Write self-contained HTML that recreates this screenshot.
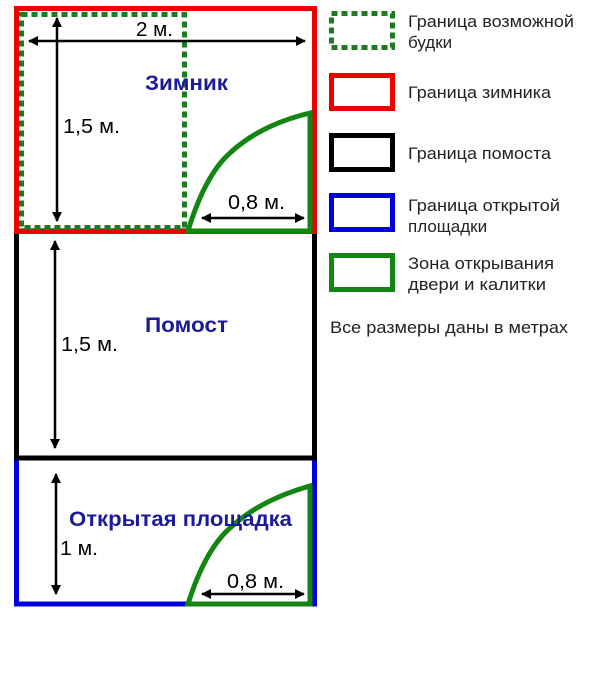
<!DOCTYPE html>
<html><head><meta charset="utf-8"><style>
body{margin:0;background:#fff;width:600px;height:675px;overflow:hidden}
svg text{font-family:"Liberation Sans",sans-serif}
</style></head><body>
<svg width="600" height="675" viewBox="0 0 600 675" xmlns="http://www.w3.org/2000/svg">
<defs>
<marker id="a" viewBox="0 0 10 10" refX="9" refY="5" markerWidth="4" markerHeight="4" orient="auto-start-reverse"><path d="M0,0 L10,5 L0,10 z" fill="#000"/></marker>
</defs>
<rect x="16.5" y="231" width="298" height="227" fill="none" stroke="#000" stroke-width="5"/>
<path d="M16.5,458 V604 H314.5 V458" fill="none" stroke="#0000e0" stroke-width="5"/>
<line x1="14" y1="458" x2="317" y2="458" stroke="#000" stroke-width="5"/>
<rect x="16.5" y="8.5" width="298" height="223" fill="none" stroke="#ee0000" stroke-width="5"/>
<rect x="21.5" y="14.5" width="163" height="213" fill="none" stroke="#1e7a1e" stroke-width="5" stroke-dasharray="6,4"/>
<path d="M188,231 Q205,175 230,153 Q260,125 310,113 V231 Z" fill="none" stroke="#138513" stroke-width="5"/>
<path d="M188,604 Q205,550 230,528 Q260,500 310,486 V604 Z" fill="none" stroke="#138513" stroke-width="5"/>
<line x1="190" y1="231" x2="312" y2="231" stroke="#138513" stroke-width="5"/>
<g stroke="#000" stroke-width="2.5" fill="none">
<line x1="29" y1="41" x2="305" y2="41" marker-start="url(#a)" marker-end="url(#a)"/>
<line x1="57" y1="18" x2="57" y2="221" marker-start="url(#a)" marker-end="url(#a)"/>
<line x1="55" y1="241" x2="55" y2="448" marker-start="url(#a)" marker-end="url(#a)"/>
<line x1="56" y1="474" x2="56" y2="594" marker-start="url(#a)" marker-end="url(#a)"/>
<line x1="202" y1="218" x2="304" y2="218" marker-start="url(#a)" marker-end="url(#a)"/>
<line x1="202" y1="594" x2="304" y2="594" marker-start="url(#a)" marker-end="url(#a)"/>
</g>
<g font-size="20" fill="#000">
<text x="136" y="36" textLength="37" lengthAdjust="spacingAndGlyphs">2 м.</text>
<text x="63" y="133" textLength="57" lengthAdjust="spacingAndGlyphs">1,5 м.</text>
<text x="61" y="351" textLength="57" lengthAdjust="spacingAndGlyphs">1,5 м.</text>
<text x="60" y="555" textLength="38" lengthAdjust="spacingAndGlyphs">1 м.</text>
<text x="228" y="209" textLength="57" lengthAdjust="spacingAndGlyphs">0,8 м.</text>
<text x="227" y="588" textLength="57" lengthAdjust="spacingAndGlyphs">0,8 м.</text>
</g>
<g font-size="21" font-weight="bold" fill="#1a1a9a">
<text x="145" y="90" textLength="83" lengthAdjust="spacingAndGlyphs">Зимник</text>
<text x="145" y="332" textLength="83" lengthAdjust="spacingAndGlyphs">Помост</text>
<text x="69" y="526" textLength="223" lengthAdjust="spacingAndGlyphs">Открытая площадка</text>
</g>
<rect x="331.5" y="13.5" width="61" height="34" fill="none" stroke="#1e7a1e" stroke-width="5" stroke-dasharray="6,4"/>
<rect x="331.5" y="75.5" width="61" height="33" fill="none" stroke="#ee0000" stroke-width="5"/>
<rect x="331.5" y="135.5" width="61" height="34" fill="none" stroke="#000" stroke-width="5"/>
<rect x="331.5" y="195.5" width="61" height="34" fill="none" stroke="#0000e0" stroke-width="5"/>
<rect x="331.5" y="255.5" width="61" height="34" fill="none" stroke="#138513" stroke-width="5"/>
<g font-size="17" fill="#222">
<text x="408" y="27" textLength="166" lengthAdjust="spacingAndGlyphs">Граница возможной</text>
<text x="408" y="48">будки</text>
<text x="408" y="98" textLength="143" lengthAdjust="spacingAndGlyphs">Граница зимника</text>
<text x="408" y="159" textLength="143" lengthAdjust="spacingAndGlyphs">Граница помоста</text>
<text x="408" y="211" textLength="152" lengthAdjust="spacingAndGlyphs">Граница открытой</text>
<text x="408" y="232">площадки</text>
<text x="408" y="269" textLength="146" lengthAdjust="spacingAndGlyphs">Зона открывания</text>
<text x="408" y="290" textLength="138" lengthAdjust="spacingAndGlyphs">двери и калитки</text>
<text x="330" y="333" textLength="238" lengthAdjust="spacingAndGlyphs">Все размеры даны в метрах</text>
</g>
</svg>
</body></html>
